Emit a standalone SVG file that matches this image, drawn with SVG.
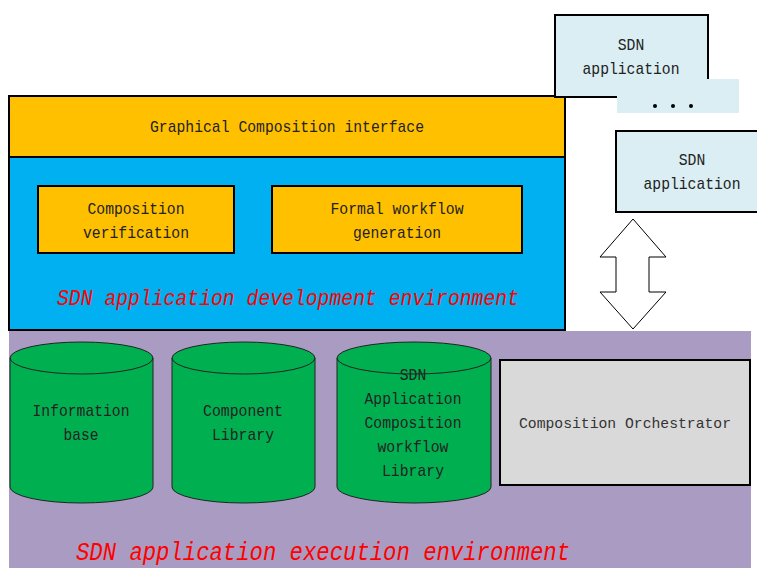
<svg xmlns="http://www.w3.org/2000/svg" width="757" height="568" viewBox="0 0 757 568">
<style>
.t{font-family:"Liberation Mono","DejaVu Sans Mono",monospace;font-size:17px;fill:#222;text-anchor:middle}
.red{font-family:"Liberation Mono","DejaVu Sans Mono",monospace;font-style:italic;fill:#FF0000}
.orange{fill:#FFC000;stroke:#000;stroke-width:2}
.app{fill:#DAEEF3;stroke:#000;stroke-width:2}
.cyl{fill:#00B050;stroke:#222;stroke-width:1}
</style>
<rect width="757" height="568" fill="#fff"/>
<g id="execution-env">
<rect x="9" y="331" width="742" height="237" fill="#A99BC1"/>
<text class="red" x="76" y="560" font-size="25" textLength="494" lengthAdjust="spacingAndGlyphs">SDN application execution environment</text>
</g>
<g id="development-env">
<rect x="9" y="96" width="556" height="234" fill="#00B0F0" stroke="#000" stroke-width="2"/>
<text class="red" x="57" y="305" font-size="22" textLength="462" lengthAdjust="spacingAndGlyphs">SDN application development environment</text>
</g>
<g id="gci">
<rect class="orange" x="9" y="96" width="556" height="61"/>
<text class="t" x="287" y="132" textLength="274" lengthAdjust="spacingAndGlyphs">Graphical Composition interface</text>
</g>
<g id="comp-verif">
<rect class="orange" x="38" y="186" width="196" height="67"/>
<text class="t" x="136" y="214" textLength="97" lengthAdjust="spacingAndGlyphs">Composition</text>
<text class="t" x="136" y="238" textLength="106" lengthAdjust="spacingAndGlyphs">verification</text>
</g>
<g id="formal-wf">
<rect class="orange" x="272" y="186" width="250" height="67"/>
<text class="t" x="397" y="214" textLength="133" lengthAdjust="spacingAndGlyphs">Formal workflow</text>
<text class="t" x="397" y="238" textLength="88" lengthAdjust="spacingAndGlyphs">generation</text>
</g>
<g id="sdn-app-1">
<rect class="app" x="555" y="15" width="153" height="82"/>
<text class="t" x="631" y="50" textLength="26.5" lengthAdjust="spacingAndGlyphs">SDN</text>
<text class="t" x="631" y="74" textLength="97" lengthAdjust="spacingAndGlyphs">application</text>
</g>
<g id="dots">
<rect x="617" y="79" width="122" height="34" fill="#DAEEF3"/>
<circle cx="655" cy="106" r="2" fill="#000"/>
<circle cx="673" cy="106" r="2" fill="#000"/>
<circle cx="691" cy="106" r="2" fill="#000"/>
</g>
<g id="sdn-app-2">
<rect class="app" x="616" y="131" width="142" height="81"/>
<text class="t" x="692" y="165" textLength="26.5" lengthAdjust="spacingAndGlyphs">SDN</text>
<text class="t" x="692" y="189" textLength="97" lengthAdjust="spacingAndGlyphs">application</text>
</g>
<g id="connectors">
<polygon points="633,219 666,257 649,257 649,292 666,292 633,329 600,292 616,292 616,257 600,257" fill="#fff" stroke="#000" stroke-width="1"/>
</g>
<g id="info-base">
<path class="cyl" d="M10,358 A71.5,16 0 0 1 153,358 V487 A71.5,16 0 0 1 10,487 Z"/>
<path d="M10,358 A71.5,16 0 0 0 153,358" fill="none" stroke="#222" stroke-width="1"/>
<text class="t" x="81" y="416" textLength="97" lengthAdjust="spacingAndGlyphs">Information</text>
<text class="t" x="81" y="440" textLength="35" lengthAdjust="spacingAndGlyphs">base</text>
</g>
<g id="component-lib">
<path class="cyl" d="M172,358 A71.5,16 0 0 1 315,358 V487 A71.5,16 0 0 1 172,487 Z"/>
<path d="M172,358 A71.5,16 0 0 0 315,358" fill="none" stroke="#222" stroke-width="1"/>
<text class="t" x="243" y="416" textLength="80" lengthAdjust="spacingAndGlyphs">Component</text>
<text class="t" x="243" y="440" textLength="62" lengthAdjust="spacingAndGlyphs">Library</text>
</g>
<g id="workflow-lib">
<path class="cyl" d="M337,358 A77,16 0 0 1 491,358 V487 A77,16 0 0 1 337,487 Z"/>
<path d="M337,358 A77,16 0 0 0 491,358" fill="none" stroke="#222" stroke-width="1"/>
<text class="t" x="413" y="380" textLength="26.5" lengthAdjust="spacingAndGlyphs">SDN</text>
<text class="t" x="413" y="404" textLength="97" lengthAdjust="spacingAndGlyphs">Application</text>
<text class="t" x="413" y="428" textLength="97" lengthAdjust="spacingAndGlyphs">Composition</text>
<text class="t" x="413" y="452" textLength="71" lengthAdjust="spacingAndGlyphs">workflow</text>
<text class="t" x="413" y="476" textLength="62" lengthAdjust="spacingAndGlyphs">Library</text>
</g>
<g id="orchestrator">
<rect x="500" y="360" width="250" height="125" fill="#D9D9D9" stroke="#000" stroke-width="2"/>
<text class="t" x="625" y="428" font-size="15" style="fill:#333;font-size:15px" textLength="212" lengthAdjust="spacingAndGlyphs">Composition Orchestrator</text>
</g>
</svg>
